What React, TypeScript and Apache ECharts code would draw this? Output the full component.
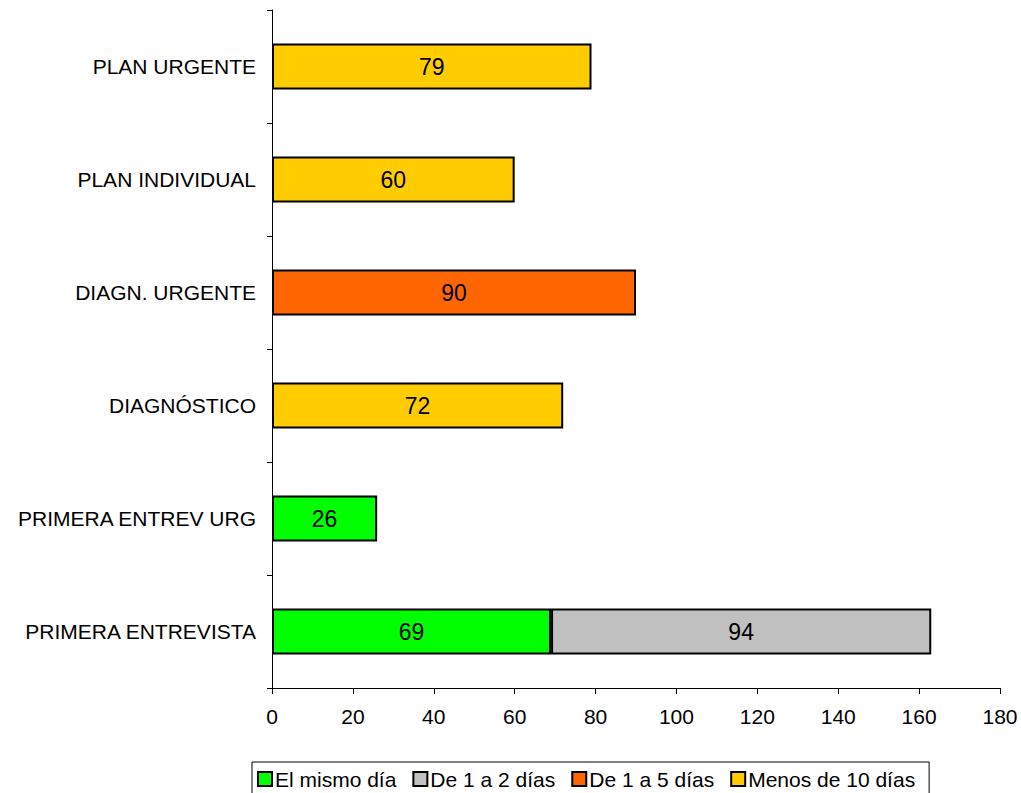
import React, { useEffect, useRef } from "react";
import * as echarts from "echarts";

// Categories listed bottom to top (category axis runs upward)
const categories = [
  "PRIMERA ENTREVISTA",
  "PRIMERA ENTREV URG",
  "DIAGNÓSTICO",
  "DIAGN. URGENTE",
  "PLAN INDIVIDUAL",
  "PLAN URGENTE",
];

const seriesNames = ["El mismo día", "De 1 a 2 días", "De 1 a 5 días", "Menos de 10 días"];
const seriesColors = ["#00FF00", "#C0C0C0", "#FF6600", "#FFCC00"];

// Values per series, aligned with categories; null = no segment
const mismoDia = [69, 26, null, null, null, null];
const de1a2 = [94, null, null, null, null, null];
const de1a5 = [null, null, null, 90, null, null];
const menos10 = [null, null, 72, null, 60, 79];

const xTicks = { min: 0, max: 180, interval: 20 };

const FONT = "'Liberation Sans', Arial, sans-serif";

export default function App() {
  const ref = useRef<HTMLDivElement>(null);

  useEffect(() => {
    if (!ref.current) return;
    const chart = echarts.init(ref.current, undefined, { renderer: "svg" });
    const values = [mismoDia, de1a2, de1a5, menos10];

    chart.setOption({
      animation: false,
      backgroundColor: "#ffffff",
      textStyle: { fontFamily: FONT, color: "#000" },
      grid: { left: 272, right: 21, top: 10, bottom: 105, containLabel: false },
      legend: {
        data: seriesNames,
        left: 252,
        top: 762,
        orient: "horizontal",
        icon: "rect",
        itemWidth: 14,
        itemHeight: 14,
        itemGap: 16,
        borderColor: "#000",
        borderWidth: 1,
        padding: [5, 14, 4, 5],
        itemStyle: { borderColor: "#000", borderWidth: 2 },
        textStyle: {
          fontFamily: FONT,
          fontSize: 21,
          lineHeight: 24,
          color: "#000",
          padding: [0, 0, 0, -2],
        },
        selectedMode: false,
      },
      xAxis: {
        type: "value",
        min: xTicks.min,
        max: xTicks.max,
        interval: xTicks.interval,
        splitLine: { show: false },
        axisLine: { show: true, lineStyle: { color: "#000", width: 1 } },
        axisTick: { show: true, length: 6, inside: false, lineStyle: { color: "#000" } },
        axisLabel: { color: "#000", fontSize: 21, fontFamily: FONT, margin: 18 },
      },
      yAxis: {
        type: "category",
        data: categories,
        boundaryGap: true,
        axisLine: { show: true, lineStyle: { color: "#000", width: 1 } },
        axisTick: { show: true, length: 5, inside: false, interval: 0, lineStyle: { color: "#000" } },
        axisLabel: { color: "#000", fontSize: 21, fontFamily: FONT, margin: 16, interval: 0 },
      },
      series: seriesNames.map((name, i) => ({
        name,
        type: "bar",
        stack: "total",
        barWidth: 46,
        data: values[i].map((v) => (v == null ? "-" : v)),
        itemStyle: { color: seriesColors[i], borderColor: "#000", borderWidth: 2 },
        label: {
          show: true,
          position: "inside",
          color: "#000",
          fontSize: 23,
          fontFamily: FONT,
        },
      })),
    });

    return () => chart.dispose();
  }, []);

  return (
    <div
      ref={ref}
      style={{ position: "fixed", left: 0, top: 0, width: 1021, height: 793 }}
    />
  );
}
